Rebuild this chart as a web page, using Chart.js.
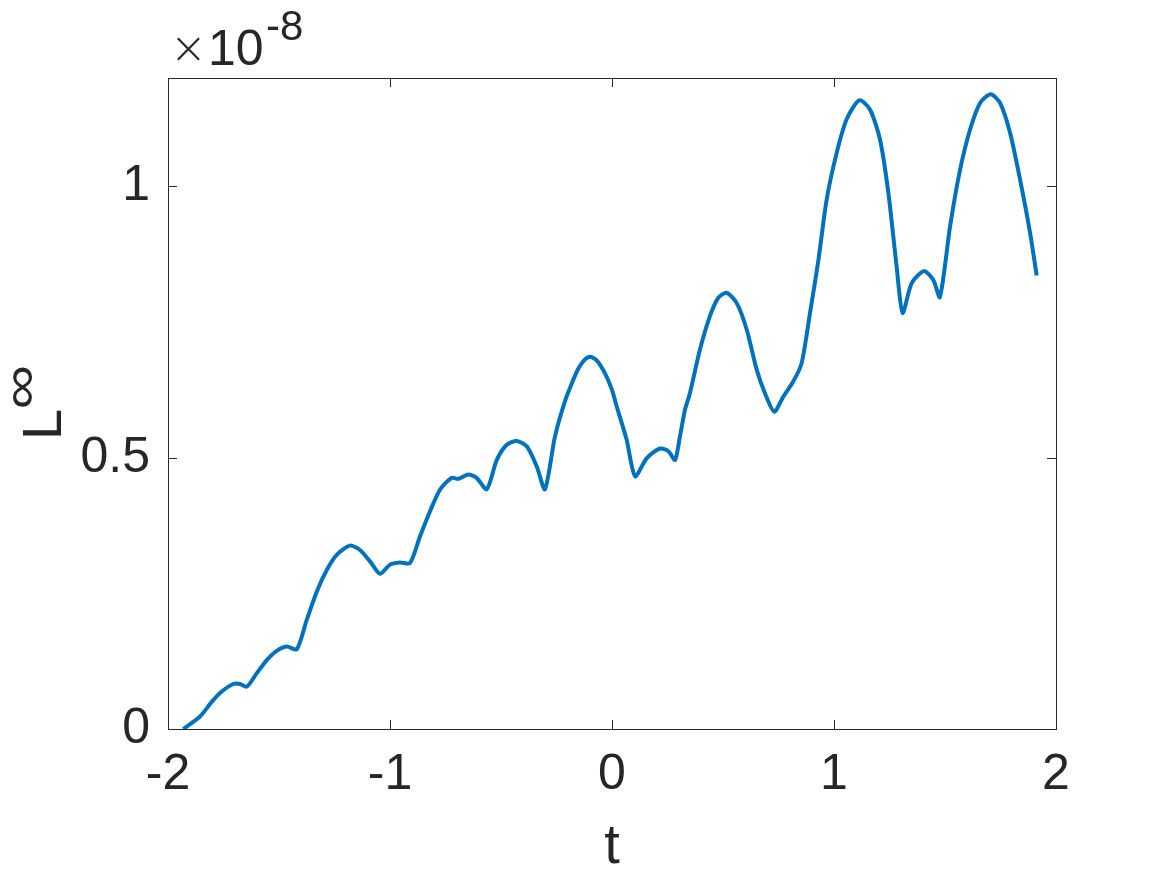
<!DOCTYPE html>
<html>
<head>
<meta charset="utf-8">
<title>L-infinity error vs t</title>
<script src="https://cdn.jsdelivr.net/npm/chart.js@4.4.0/dist/chart.umd.min.js"></script>
<style>
  html, body { margin: 0; padding: 0; background: #fff; }
  #wrap { width: 1167px; height: 875px; }
</style>
</head>
<body>
<div id="wrap"><canvas id="errChart" width="1167" height="875"></canvas></div>
<script>
// t samples
var tValues = [
  -1.931, -1.856, -1.803, -1.758, -1.706, -1.676, -1.645, -1.600, -1.555, -1.510,
  -1.465, -1.420, -1.375, -1.330, -1.285, -1.240, -1.180, -1.135, -1.090, -1.045,
  -1.000, -0.955, -0.910, -0.865, -0.820, -0.775, -0.722, -0.692, -0.647, -0.610,
  -0.564, -0.519, -0.474, -0.429, -0.384, -0.339, -0.302, -0.257, -0.212, -0.174,
  -0.152, -0.125, -0.099, -0.070, -0.032, 0.000, 0.021, 0.066, 0.104, 0.156,
  0.216, 0.254, 0.284, 0.306, 0.329, 0.351, 0.396, 0.441, 0.479, 0.517,
  0.562, 0.607, 0.652, 0.689, 0.731, 0.772, 0.817, 0.854, 0.892, 0.930,
  0.967, 1.012, 1.057, 1.114, 1.162, 1.207, 1.245, 1.282, 1.309, 1.350,
  1.405, 1.447, 1.477, 1.523, 1.568, 1.613, 1.658, 1.706, 1.748, 1.793,
  1.838, 1.883, 1.913
];

// L-infinity error, in units of 1e-8
var errValues = [
  0.000, 0.023, 0.050, 0.069, 0.083, 0.083, 0.078, 0.103, 0.127, 0.144,
  0.152, 0.147, 0.201, 0.253, 0.293, 0.321, 0.338, 0.330, 0.309, 0.286,
  0.303, 0.307, 0.306, 0.355, 0.401, 0.441, 0.463, 0.461, 0.469, 0.463,
  0.442, 0.496, 0.524, 0.531, 0.521, 0.484, 0.442, 0.539, 0.604, 0.644,
  0.664, 0.680, 0.686, 0.680, 0.656, 0.625, 0.595, 0.533, 0.466, 0.499,
  0.517, 0.512, 0.496, 0.539, 0.589, 0.619, 0.699, 0.761, 0.795, 0.804,
  0.785, 0.736, 0.662, 0.619, 0.585, 0.613, 0.641, 0.674, 0.767, 0.865,
  0.976, 1.062, 1.124, 1.159, 1.142, 1.087, 0.988, 0.853, 0.767, 0.822,
  0.844, 0.828, 0.796, 0.927, 1.031, 1.105, 1.154, 1.170, 1.154, 1.099,
  1.013, 0.915, 0.836
];

var xTicks = [-2, -1, 0, 1, 2];
var yTicks = [0, 0.5, 1];
var yTickLabels = ['0', '0.5', '1'];

var INK = '#262626';
var FONT = '"Liberation Sans", Arial, Helvetica, sans-serif';

// MATLAB-style box with inward ticks, plus the axis labels and exponent
var matlabAxes = {
  id: 'matlabAxes',
  afterDraw: function (chart) {
    var ctx = chart.ctx;
    var a = chart.chartArea;
    var xs = chart.scales.x;
    var ys = chart.scales.y;
    var tick = 9;

    ctx.save();
    ctx.strokeStyle = INK;
    ctx.lineWidth = 1;
    ctx.strokeRect(Math.round(a.left) + 0.5, Math.round(a.top) + 0.5,
      Math.round(a.right - a.left), Math.round(a.bottom - a.top));

    ctx.beginPath();
    xTicks.forEach(function (v) {
      var px = Math.round(xs.getPixelForValue(v)) + 0.5;
      ctx.moveTo(px, a.bottom); ctx.lineTo(px, a.bottom - tick);
      ctx.moveTo(px, a.top); ctx.lineTo(px, a.top + tick);
    });
    yTicks.forEach(function (v) {
      var py = Math.round(ys.getPixelForValue(v)) + 0.5;
      ctx.moveTo(a.left, py); ctx.lineTo(a.left + tick, py);
      ctx.moveTo(a.right, py); ctx.lineTo(a.right - tick, py);
    });
    ctx.stroke();

    ctx.fillStyle = INK;
    ctx.textBaseline = 'alphabetic';

    // exponent: x10^-8
    ctx.textAlign = 'left';
    ctx.font = '300 44px "DejaVu Sans", ' + FONT;
    ctx.fillText('\u00d7', 170, 63);
    ctx.font = '50px ' + FONT;
    ctx.fillText('10', 208, 65);
    ctx.font = '42px ' + FONT;
    ctx.fillText('-8', 266, 40);

    // x label
    ctx.textAlign = 'center';
    ctx.font = '56px ' + FONT;
    ctx.fillText('t', (a.left + a.right) / 2, 863);

    // y label: L^inf, rotated
    ctx.translate(61, 440);
    ctx.rotate(-Math.PI / 2);
    ctx.textAlign = 'left';
    ctx.font = '56px ' + FONT;
    ctx.fillText('L', 0, 0);

    // superscript infinity, stretched to the size seen in the picture
    ctx.font = '50px ' + FONT;
    var m = ctx.measureText('\u221e');
    var inkW = (m.actualBoundingBoxLeft + m.actualBoundingBoxRight) || 30;
    var inkH = (m.actualBoundingBoxAscent + m.actualBoundingBoxDescent) || 15;
    ctx.translate(33, -28);
    ctx.scale(40 / inkW, 20 / inkH);
    ctx.fillText('\u221e', m.actualBoundingBoxLeft || 0, -(m.actualBoundingBoxDescent || 0));
    ctx.restore();
  }
};

new Chart(document.getElementById('errChart').getContext('2d'), {
  type: 'line',
  data: {
    datasets: [{
      data: tValues.map(function (t, i) { return { x: t, y: errValues[i] }; }),
      borderColor: '#0072BD',
      borderWidth: 4,
      pointRadius: 0,
      fill: false,
      tension: 0.25
    }]
  },
  options: {
    responsive: false,
    animation: false,
    devicePixelRatio: 1,
    layout: { padding: { top: 78, right: 111, left: 0, bottom: 0 } },
    plugins: {
      legend: { display: false },
      tooltip: { enabled: false }
    },
    scales: {
      x: {
        type: 'linear',
        min: -2,
        max: 2,
        grid: { display: false, drawTicks: false },
        border: { display: false },
        afterBuildTicks: function (scale) {
          scale.ticks = xTicks.map(function (v) { return { value: v }; });
        },
        afterFit: function (scale) { scale.height = 146; },
        ticks: {
          padding: 16,
          color: INK,
          font: { family: FONT, size: 50 },
          callback: function (v) { return String(v); }
        }
      },
      y: {
        type: 'linear',
        min: 0,
        max: 1.2,
        grid: { display: false, drawTicks: false },
        border: { display: false },
        afterBuildTicks: function (scale) {
          scale.ticks = yTicks.map(function (v) { return { value: v }; });
        },
        afterFit: function (scale) { scale.width = 168; },
        ticks: {
          padding: 18,
          color: INK,
          font: { family: FONT, size: 50 },
          callback: function (v) {
            var i = yTicks.indexOf(v);
            return i >= 0 ? yTickLabels[i] : '';
          }
        }
      }
    }
  },
  plugins: [matlabAxes]
});
</script>
</body>
</html>
